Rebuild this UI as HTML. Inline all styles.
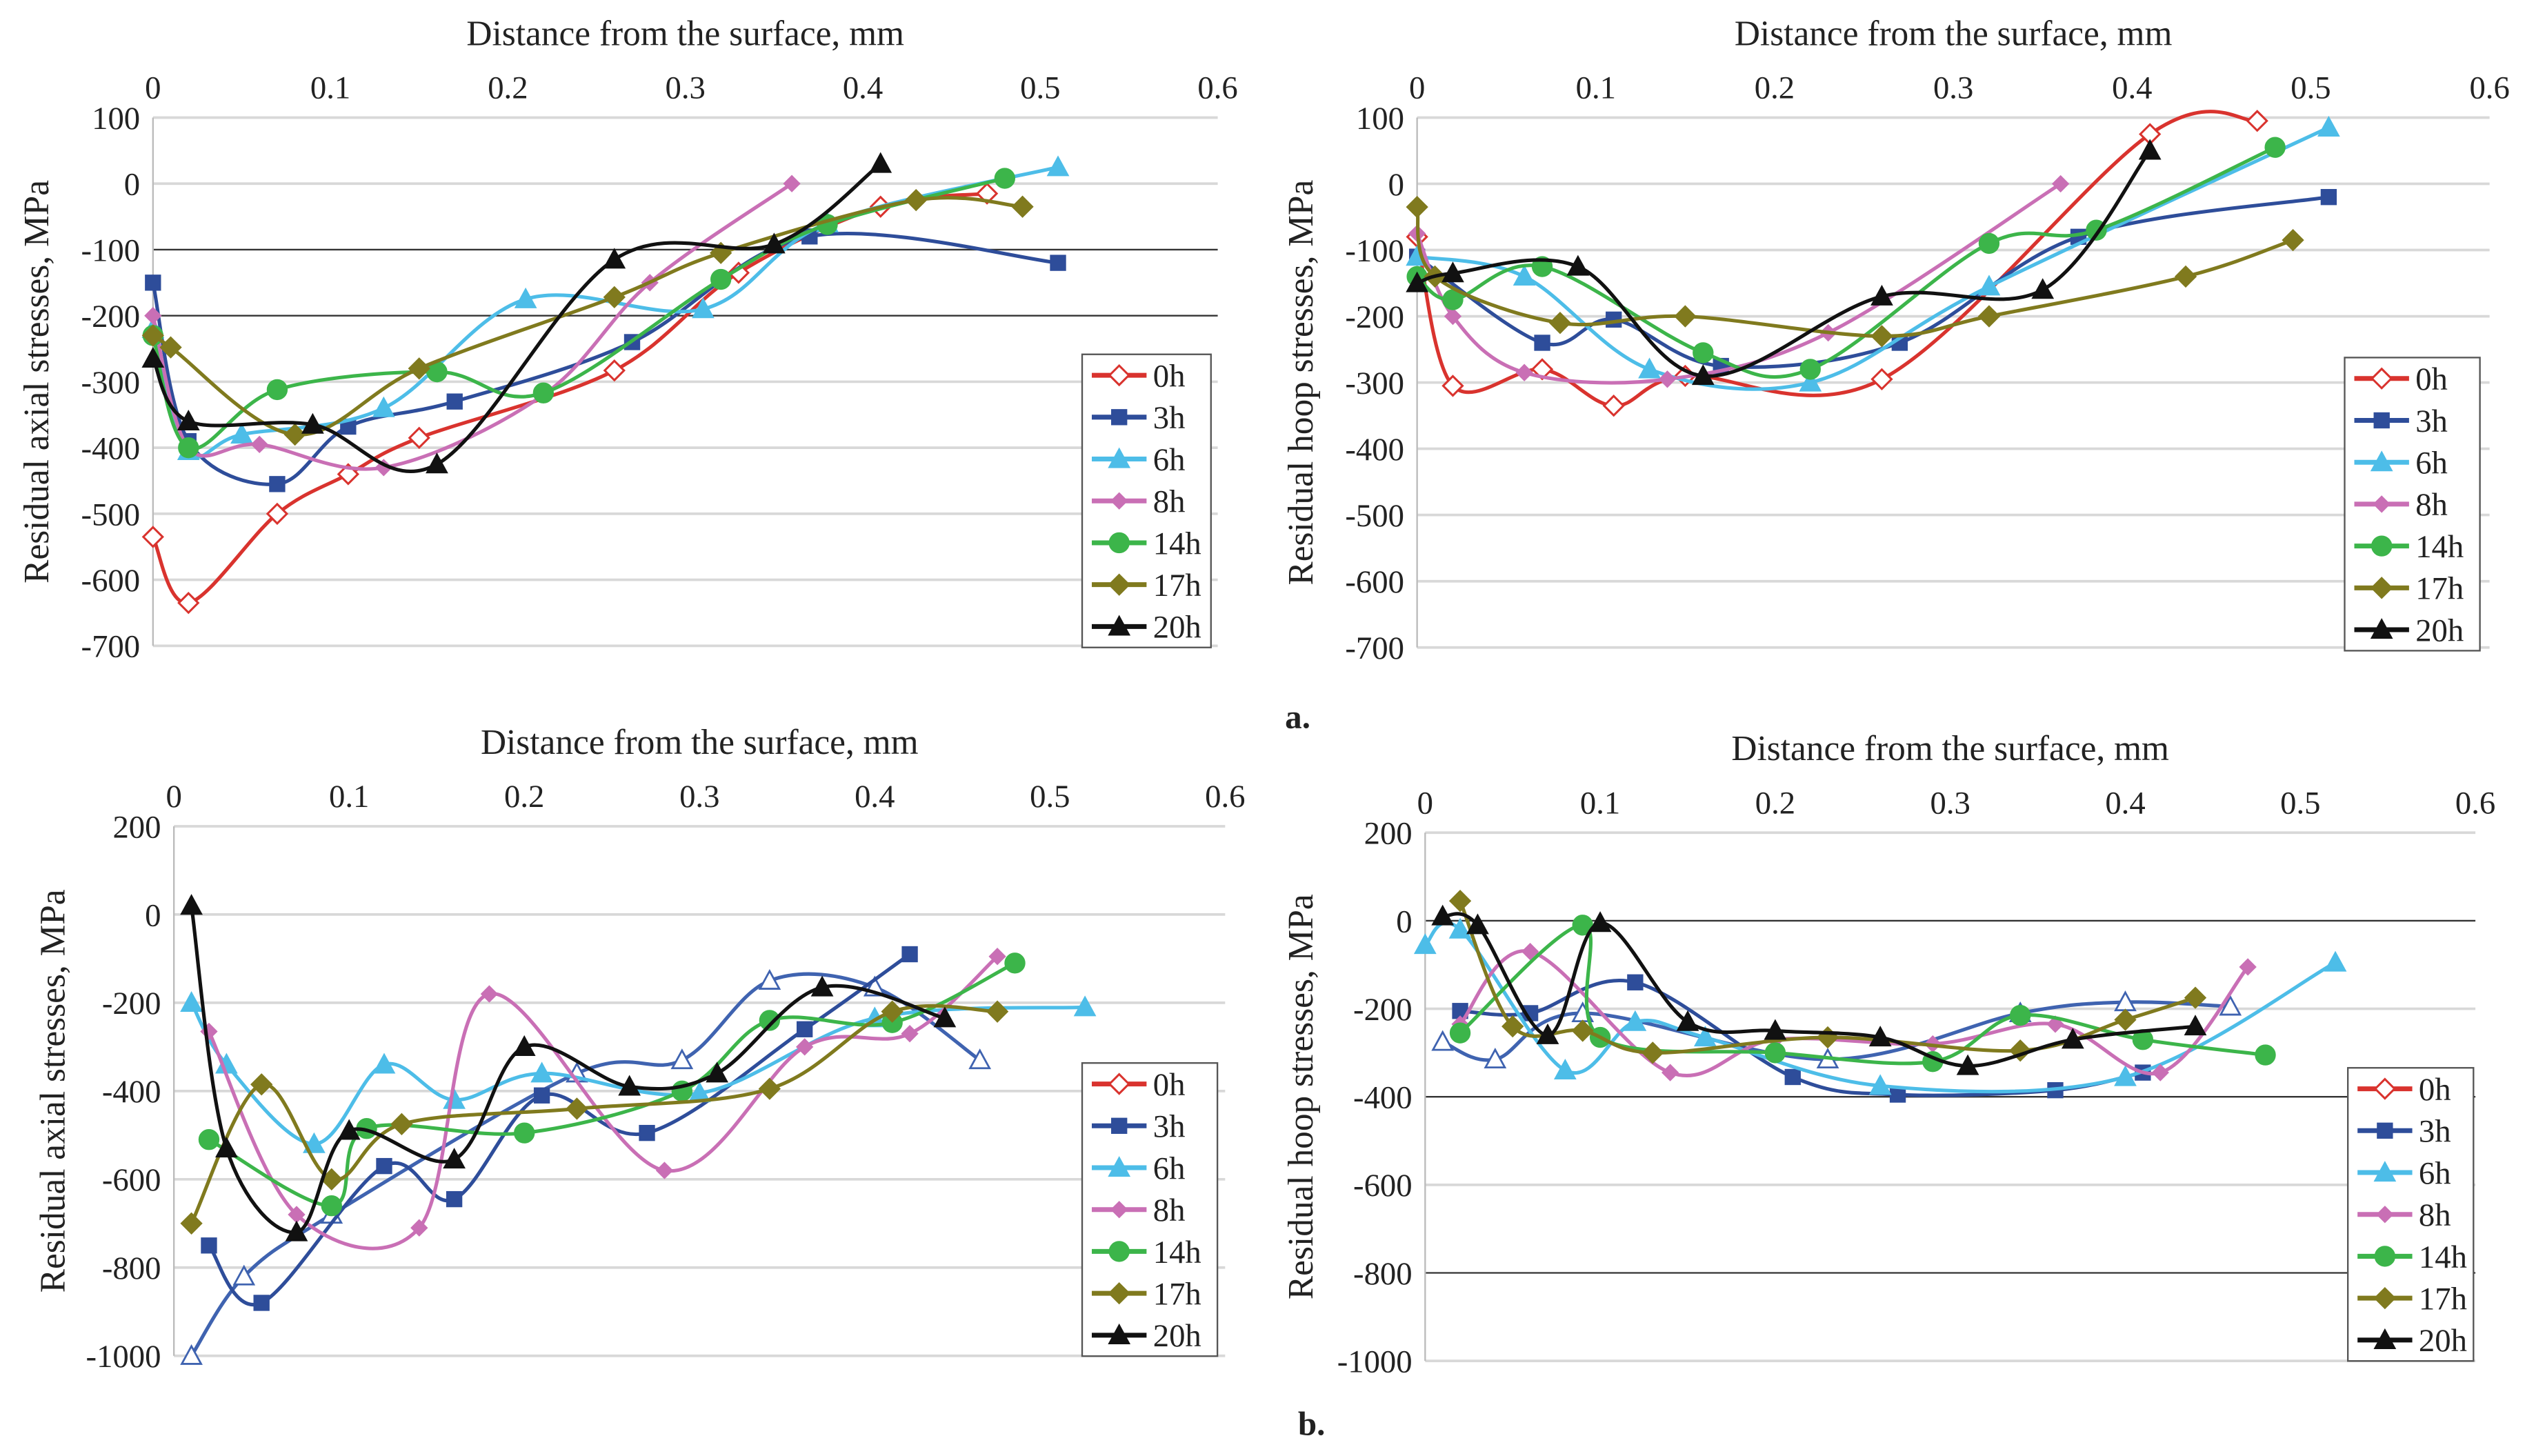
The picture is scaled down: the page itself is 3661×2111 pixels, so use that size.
<!DOCTYPE html>
<html><head><meta charset="utf-8">
<style>
html,body{margin:0;padding:0;background:#fff;}
svg{display:block;font-family:"Liberation Serif","DejaVu Serif",serif;}
svg text{font-family:"Liberation Serif","DejaVu Serif",serif;fill:#222;}
</style></head>
<body>
<svg id="fig" width="3661" height="2111" viewBox="0 0 1568 904" preserveAspectRatio="none" font-family="Liberation Serif, serif" xmlns="http://www.w3.org/2000/svg"></svg>
<script>
const seriesNames = ["0h","3h","6h","8h","14h","17h","20h"];
const seriesColors = ["#d9332e","#2e4d9a","#4dbde8","#c96fb5","#3cb54a","#807a1e","#111111"];
const xTicks = [0,0.1,0.2,0.3,0.4,0.5,0.6];

// Chart A: axial, top
const aData0h=[[0,-535],[0.02,-635],[0.07,-500],[0.11,-440],[0.15,-385],[0.26,-283],[0.33,-135],[0.41,-35],[0.47,-15]];
const aData3h=[[0,-150],[0.02,-390],[0.07,-455],[0.11,-368],[0.17,-330],[0.27,-240],[0.37,-80],[0.51,-120]];
const aData6h=[[0,-220],[0.02,-405],[0.05,-380],[0.13,-340],[0.21,-175],[0.31,-190],[0.38,-60],[0.51,25]];
const aData8h=[[0,-200],[0.02,-400],[0.06,-395],[0.13,-430],[0.22,-320],[0.28,-150],[0.36,0]];
const aData14h=[[0,-230],[0.02,-400],[0.07,-312],[0.16,-285],[0.22,-317],[0.32,-145],[0.38,-62],[0.48,8]];
const aData17h=[[0,-230],[0.01,-248],[0.08,-380],[0.15,-280],[0.26,-172],[0.32,-105],[0.43,-25],[0.49,-35]];
const aData20h=[[0,-265],[0.02,-360],[0.09,-365],[0.16,-425],[0.26,-115],[0.35,-92],[0.41,30]];
// Chart B: hoop, top
const bData0h=[[0,-80],[0.02,-305],[0.07,-280],[0.11,-335],[0.15,-290],[0.26,-295],[0.41,75],[0.47,95]];
const bData3h=[[0,-110],[0.07,-240],[0.11,-205],[0.17,-275],[0.27,-240],[0.37,-80],[0.51,-20]];
const bData6h=[[0,-110],[0.06,-140],[0.13,-280],[0.22,-300],[0.32,-155],[0.51,85]];
const bData8h=[[0,-75],[0.02,-200],[0.06,-285],[0.14,-295],[0.23,-225],[0.36,0]];
const bData14h=[[0,-140],[0.02,-175],[0.07,-125],[0.16,-255],[0.22,-280],[0.32,-90],[0.38,-70],[0.48,55]];
const bData17h=[[0,-35],[0.01,-140],[0.08,-210],[0.15,-200],[0.26,-230],[0.32,-200],[0.43,-140],[0.49,-85]];
const bData20h=[[0,-150],[0.02,-135],[0.09,-125],[0.16,-290],[0.26,-170],[0.35,-160],[0.41,50]];
// Chart C: axial, bottom
const cData0h=[[0.01,-1000],[0.04,-820],[0.09,-680],[0.23,-360],[0.29,-330],[0.34,-150],[0.4,-165],[0.46,-330]];
const cData3h=[[0.02,-750],[0.05,-880],[0.12,-570],[0.16,-645],[0.21,-410],[0.27,-495],[0.36,-260],[0.42,-90]];
const cData6h=[[0.01,-200],[0.03,-340],[0.08,-520],[0.12,-340],[0.16,-420],[0.21,-360],[0.3,-405],[0.4,-235],[0.52,-210]];
const cData8h=[[0.02,-265],[0.07,-680],[0.14,-710],[0.18,-180],[0.28,-580],[0.36,-300],[0.42,-270],[0.47,-95]];
const cData14h=[[0.02,-510],[0.09,-660],[0.11,-485],[0.2,-495],[0.29,-400],[0.34,-240],[0.41,-245],[0.48,-110]];
const cData17h=[[0.01,-700],[0.05,-385],[0.09,-600],[0.13,-475],[0.23,-440],[0.34,-395],[0.41,-220],[0.47,-220]];
const cData20h=[[0.01,20],[0.03,-530],[0.07,-720],[0.1,-490],[0.16,-555],[0.2,-300],[0.26,-390],[0.31,-360],[0.37,-165],[0.44,-235]];
// Chart D: hoop, bottom
const dData0h=[[0.01,-275],[0.04,-315],[0.09,-210],[0.23,-315],[0.34,-210],[0.4,-185],[0.46,-195]];
const dData3h=[[0.02,-205],[0.06,-210],[0.12,-140],[0.21,-355],[0.27,-395],[0.36,-385],[0.41,-345]];
const dData6h=[[0,-55],[0.02,-20],[0.08,-340],[0.12,-230],[0.16,-265],[0.26,-375],[0.4,-355],[0.52,-95]];
const dData8h=[[0.02,-235],[0.06,-70],[0.14,-345],[0.2,-270],[0.29,-280],[0.36,-235],[0.42,-345],[0.47,-105]];
const dData14h=[[0.02,-255],[0.09,-10],[0.1,-265],[0.2,-300],[0.29,-320],[0.34,-215],[0.41,-270],[0.48,-305]];
const dData17h=[[0.02,45],[0.05,-240],[0.09,-250],[0.13,-300],[0.23,-265],[0.34,-295],[0.4,-225],[0.44,-175]];
const dData20h=[[0.01,10],[0.03,-10],[0.07,-260],[0.1,-5],[0.15,-230],[0.2,-250],[0.26,-265],[0.31,-330],[0.37,-270],[0.44,-240]];

const topYTicks=[100,0,-100,-200,-300,-400,-500,-600,-700];
const botYTicks=[200,0,-200,-400,-600,-800,-1000];

const NS="http://www.w3.org/2000/svg";
const svg=document.getElementById('fig');
const FONT='"Liberation Serif", "DejaVu Serif", serif';
function mk(tag,attrs,parent){const e=document.createElementNS(NS,tag);for(const k in attrs)e.setAttribute(k,attrs[k]);if(tag==='text'){e.setAttribute('font-family',FONT);e.style.fontFamily=FONT;}(parent||svg).appendChild(e);return e;}

function smooth(pts){
  let d="M"+pts[0][0]+","+pts[0][1];
  for(let i=0;i<pts.length-1;i++){
    const p0=pts[i-1]||pts[i],p1=pts[i],p2=pts[i+1],p3=pts[i+2]||p2;
    const c1=[p1[0]+(p2[0]-p0[0])/6,p1[1]+(p2[1]-p0[1])/6];
    const c2=[p2[0]-(p3[0]-p1[0])/6,p2[1]-(p3[1]-p1[1])/6];
    d+=" C"+c1+" "+c2+" "+p2;
  }
  return d;
}
function marker(g,type,x,y,color,hollow){
  const fill=hollow?"#fff":color;
  let e;
  if(type==="diamond"||type==="sdiamond"){const s=type==="diamond"?6:4.5;e=mk('polygon',{points:`${x},${y-s} ${x+s},${y} ${x},${y+s} ${x-s},${y}`,fill,stroke:color,'stroke-width':1.3},g);}
  else if(type==="square"){e=mk('rect',{x:x-4.5,y:y-4.5,width:9,height:9,fill,stroke:color},g);}
  else if(type==="triangle"){e=mk('polygon',{points:`${x},${y-6} ${x+6},${y+5} ${x-6},${y+5}`,fill,stroke:color,'stroke-width':1.2},g);}
  else if(type==="circle"){e=mk('circle',{cx:x,cy:y,r:6,fill,stroke:color},g);}
  
  
}
const markerTypes=["diamond","square","triangle","sdiamond","circle","diamond","triangle"];

function chart(cfg){
  const g=mk('g',{});
  
  
  const X=v=>cfg.x0+v/0.1*cfg.xs;
  const Y=v=>cfg.y0+(cfg.yMax-v)*cfg.ys;
  const right=X(0.6);
  cfg.yTicks.forEach(t=>{
    const dark=cfg.dark.includes(t);
    const ln=mk('line',{x1:cfg.x0,x2:right,y1:Y(t),y2:Y(t),stroke:dark?"#333":"#d8d8d8",'stroke-width':dark?1:1.6},g);
    
    
    const tl=mk('text',{x:cfg.x0-8,y:Y(t)+7,'text-anchor':'end','font-size':20},g);
    tl.textContent=t;
    
    
  });
  const ya=mk('line',{x1:cfg.x0,x2:cfg.x0,y1:Y(cfg.yTicks[0]),y2:Y(cfg.yTicks[cfg.yTicks.length-1]),stroke:"#bbb",'stroke-width':1},g);
  
  
  xTicks.forEach(t=>{
    const tl=mk('text',{x:X(t),y:Y(cfg.yTicks[0])-12,'text-anchor':'middle','font-size':20},g);
    tl.textContent=t;
    
    
  });
  const xt=mk('text',{x:(cfg.x0+right)/2,y:Y(cfg.yTicks[0])-45,'text-anchor':'middle','font-size':22},g);
  xt.textContent="Distance from the surface, mm";
  
  
  const ymid=(Y(cfg.yTicks[0])+Y(cfg.yTicks[cfg.yTicks.length-1]))/2;
  const yt=mk('text',{x:cfg.ytx,y:ymid,'text-anchor':'middle','font-size':22,transform:`rotate(-90 ${cfg.ytx} ${ymid})`},g);
  yt.textContent=cfg.ytitle;
  
  
  cfg.data.forEach((d,i)=>{
    const sg=mk('g',{},g);
    
    
    const hollow0=cfg.hollow0&&i===0;
    const col=hollow0?"#3f63b0":seriesColors[i];
    const pts=d.map(p=>[X(p[0]),Y(p[1])]);
    const path=mk('path',{d:smooth(pts),fill:'none',stroke:col,'stroke-width':2.2},sg);
    
    
    pts.forEach(p=>marker(sg,hollow0?"triangle":markerTypes[i],p[0],p[1],col,hollow0||i===0));
  });
  const L=cfg.legend;
  const lg=mk('g',{},g);
  
  
  mk('rect',{x:L[0],y:L[1],width:L[2],height:L[3],fill:'#fff',stroke:'#555','stroke-width':1},lg);
  seriesNames.forEach((n,i)=>{
    const yy=L[1]+13+i*26;
    const en=mk('g',{},lg);
    
    
    mk('line',{x1:L[0]+6,x2:L[0]+40,y1:yy,y2:yy,stroke:seriesColors[i],'stroke-width':3},en);
    marker(en,markerTypes[i],L[0]+23,yy,seriesColors[i],i===0);
    const t=mk('text',{x:L[0]+44,y:yy+7,'font-size':20},en);
    t.textContent=n;
  });
}

chart({name:'chart-axial-a',x0:95,xs:110.2,y0:73,yMax:100,ys:0.41,yTicks:topYTicks,dark:[-100,-200],ytx:30,ytitle:"Residual axial stresses, MPa",
  data:[aData0h,aData3h,aData6h,aData8h,aData14h,aData17h,aData20h],legend:[672,220,80,182]});
chart({name:'chart-hoop-a',x0:880,xs:111,y0:73,yMax:100,ys:0.41125,yTicks:topYTicks,dark:[],ytx:815,ytitle:"Residual hoop stresses, MPa",
  data:[bData0h,bData3h,bData6h,bData8h,bData14h,bData17h,bData20h],legend:[1456,222,84,182]});
chart({name:'chart-axial-b',x0:108,xs:108.8,y0:513,yMax:200,ys:0.274,yTicks:botYTicks,dark:[],ytx:40,ytitle:"Residual axial stresses, MPa",hollow0:true,
  data:[cData0h,cData3h,cData6h,cData8h,cData14h,cData17h,cData20h],legend:[672,660,84,182]});
chart({name:'chart-hoop-b',x0:885,xs:108.7,y0:517,yMax:200,ys:0.2733,yTicks:botYTicks,dark:[0,-400,-800],ytx:815,ytitle:"Residual hoop stresses, MPa",hollow0:true,
  data:[dData0h,dData3h,dData6h,dData8h,dData14h,dData17h,dData20h],legend:[1458,663,78,182]});

const la=mk('text',{x:798,y:452,'font-size':21,'font-weight':'bold'});la.textContent="a.";


const lb=mk('text',{x:806,y:891,'font-size':21,'font-weight':'bold'});lb.textContent="b.";


</script>
</body></html>
